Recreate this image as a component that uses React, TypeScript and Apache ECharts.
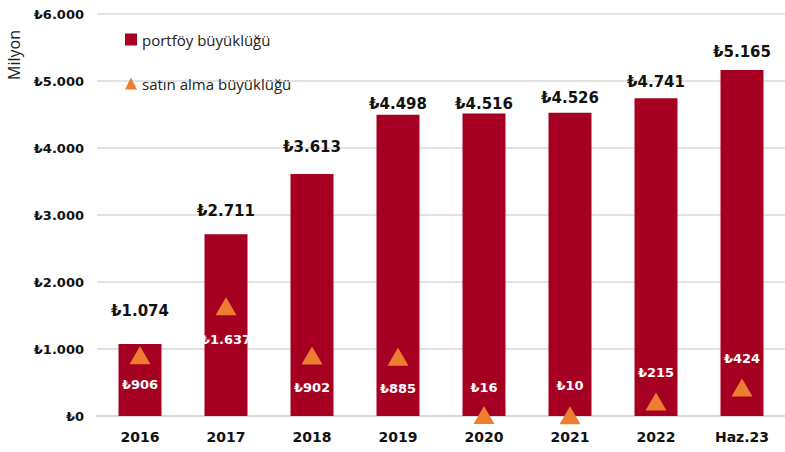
import React, { useEffect, useRef } from "react";
import * as echarts from "echarts";

const categories = ["2016", "2017", "2018", "2019", "2020", "2021", "2022", "Haz.23"];
const portfolio = [1074, 2711, 3613, 4498, 4516, 4526, 4741, 5165];
const acquisitions = [906, 1637, 902, 885, 16, 10, 215, 424];
const yTicks = [0, 1000, 2000, 3000, 4000, 5000, 6000];

const barLabelDistance = [26, 16, 19, 3, 2, 7, 9, 10];
const triLabelPos = ["bottom", "bottom", "bottom", "bottom", "top", "top", "top", "top"];
const triLabelDistance = [14, 18, 16, 16, 12, 14, 14, 14];

const FONT = "'Open Sans', 'DejaVu Sans', sans-serif";
const BOLD = "'DejaVu Sans', sans-serif";

const fmt = (v: number) => "₺" + v.toString().replace(/\B(?=(\d{3})+(?!\d))/g, ".");

export default function App() {
  const ref = useRef<HTMLDivElement>(null);
  useEffect(() => {
    if (!ref.current) return;
    const chart = echarts.init(ref.current, null, { renderer: "svg" });
    chart.setOption({
      animation: false,
      textStyle: { fontFamily: FONT },
      grid: { left: 97, top: 14, width: 700, height: 402, containLabel: false },
      legend: {
        orient: "vertical",
        left: 120,
        top: 27,
        itemGap: 29,
        itemWidth: 12,
        itemHeight: 12,
        textStyle: { fontSize: 15, color: "#222", fontFamily: FONT },
        data: [
          { name: "portföy büyüklüğü", icon: "rect" },
          { name: "satın alma büyüklüğü", icon: "triangle" },
        ],
      },
      xAxis: {
        type: "category",
        data: categories,
        axisTick: { show: false },
        axisLine: { lineStyle: { color: "#d9d9d9", width: 2 } },
        axisLabel: { color: "#111", fontWeight: "bold", fontSize: 14, margin: 14, fontFamily: BOLD },
      },
      yAxis: {
        type: "value",
        min: yTicks[0],
        max: yTicks[yTicks.length - 1],
        interval: 1000,
        axisLabel: {
          formatter: (v: number) => fmt(v),
          color: "#111",
          fontWeight: "bold",
          fontSize: 13,
          margin: 13,
          fontFamily: BOLD,
        },
        splitLine: { lineStyle: { color: "#d9d9d9", width: 1.5 } },
      },
      graphic: [
        {
          type: "text",
          left: 6,
          top: 30,
          rotation: Math.PI / 2,
          style: { text: "Milyon", fontSize: 16, fill: "#222", fontFamily: FONT },
        },
      ],
      series: [
        {
          name: "portföy büyüklüğü",
          type: "bar",
          barWidth: "50%",
          itemStyle: { color: "#A50021" },
          data: portfolio.map((v, i) => ({
            value: v,
            label: {
              show: true,
              position: "top",
              distance: barLabelDistance[i],
              formatter: (p: any) => fmt(p.value),
              color: "#111",
              fontWeight: "bold",
              fontSize: 15,
              fontFamily: BOLD,
            },
          })),
        },
        {
          name: "satın alma büyüklüğü",
          type: "scatter",
          symbol: "triangle",
          symbolSize: [21, 18],
          itemStyle: { color: "#ED7D31", opacity: 1 },
          z: 5,
          data: acquisitions.map((v, i) => ({
            value: v,
            label: {
              show: true,
              position: triLabelPos[i],
              distance: triLabelDistance[i],
              formatter: (p: any) => fmt(p.value),
              color: "#ffffff",
              opacity: 1,
              textBorderWidth: 0,
              fontWeight: "bold",
              fontSize: 13,
              fontFamily: BOLD,
            },
          })),
        },
      ],
    });
    return () => chart.dispose();
  }, []);
  return <div ref={ref} style={{ width: 785, height: 452, position: "absolute", left: 0, top: 0 }} />;
}
